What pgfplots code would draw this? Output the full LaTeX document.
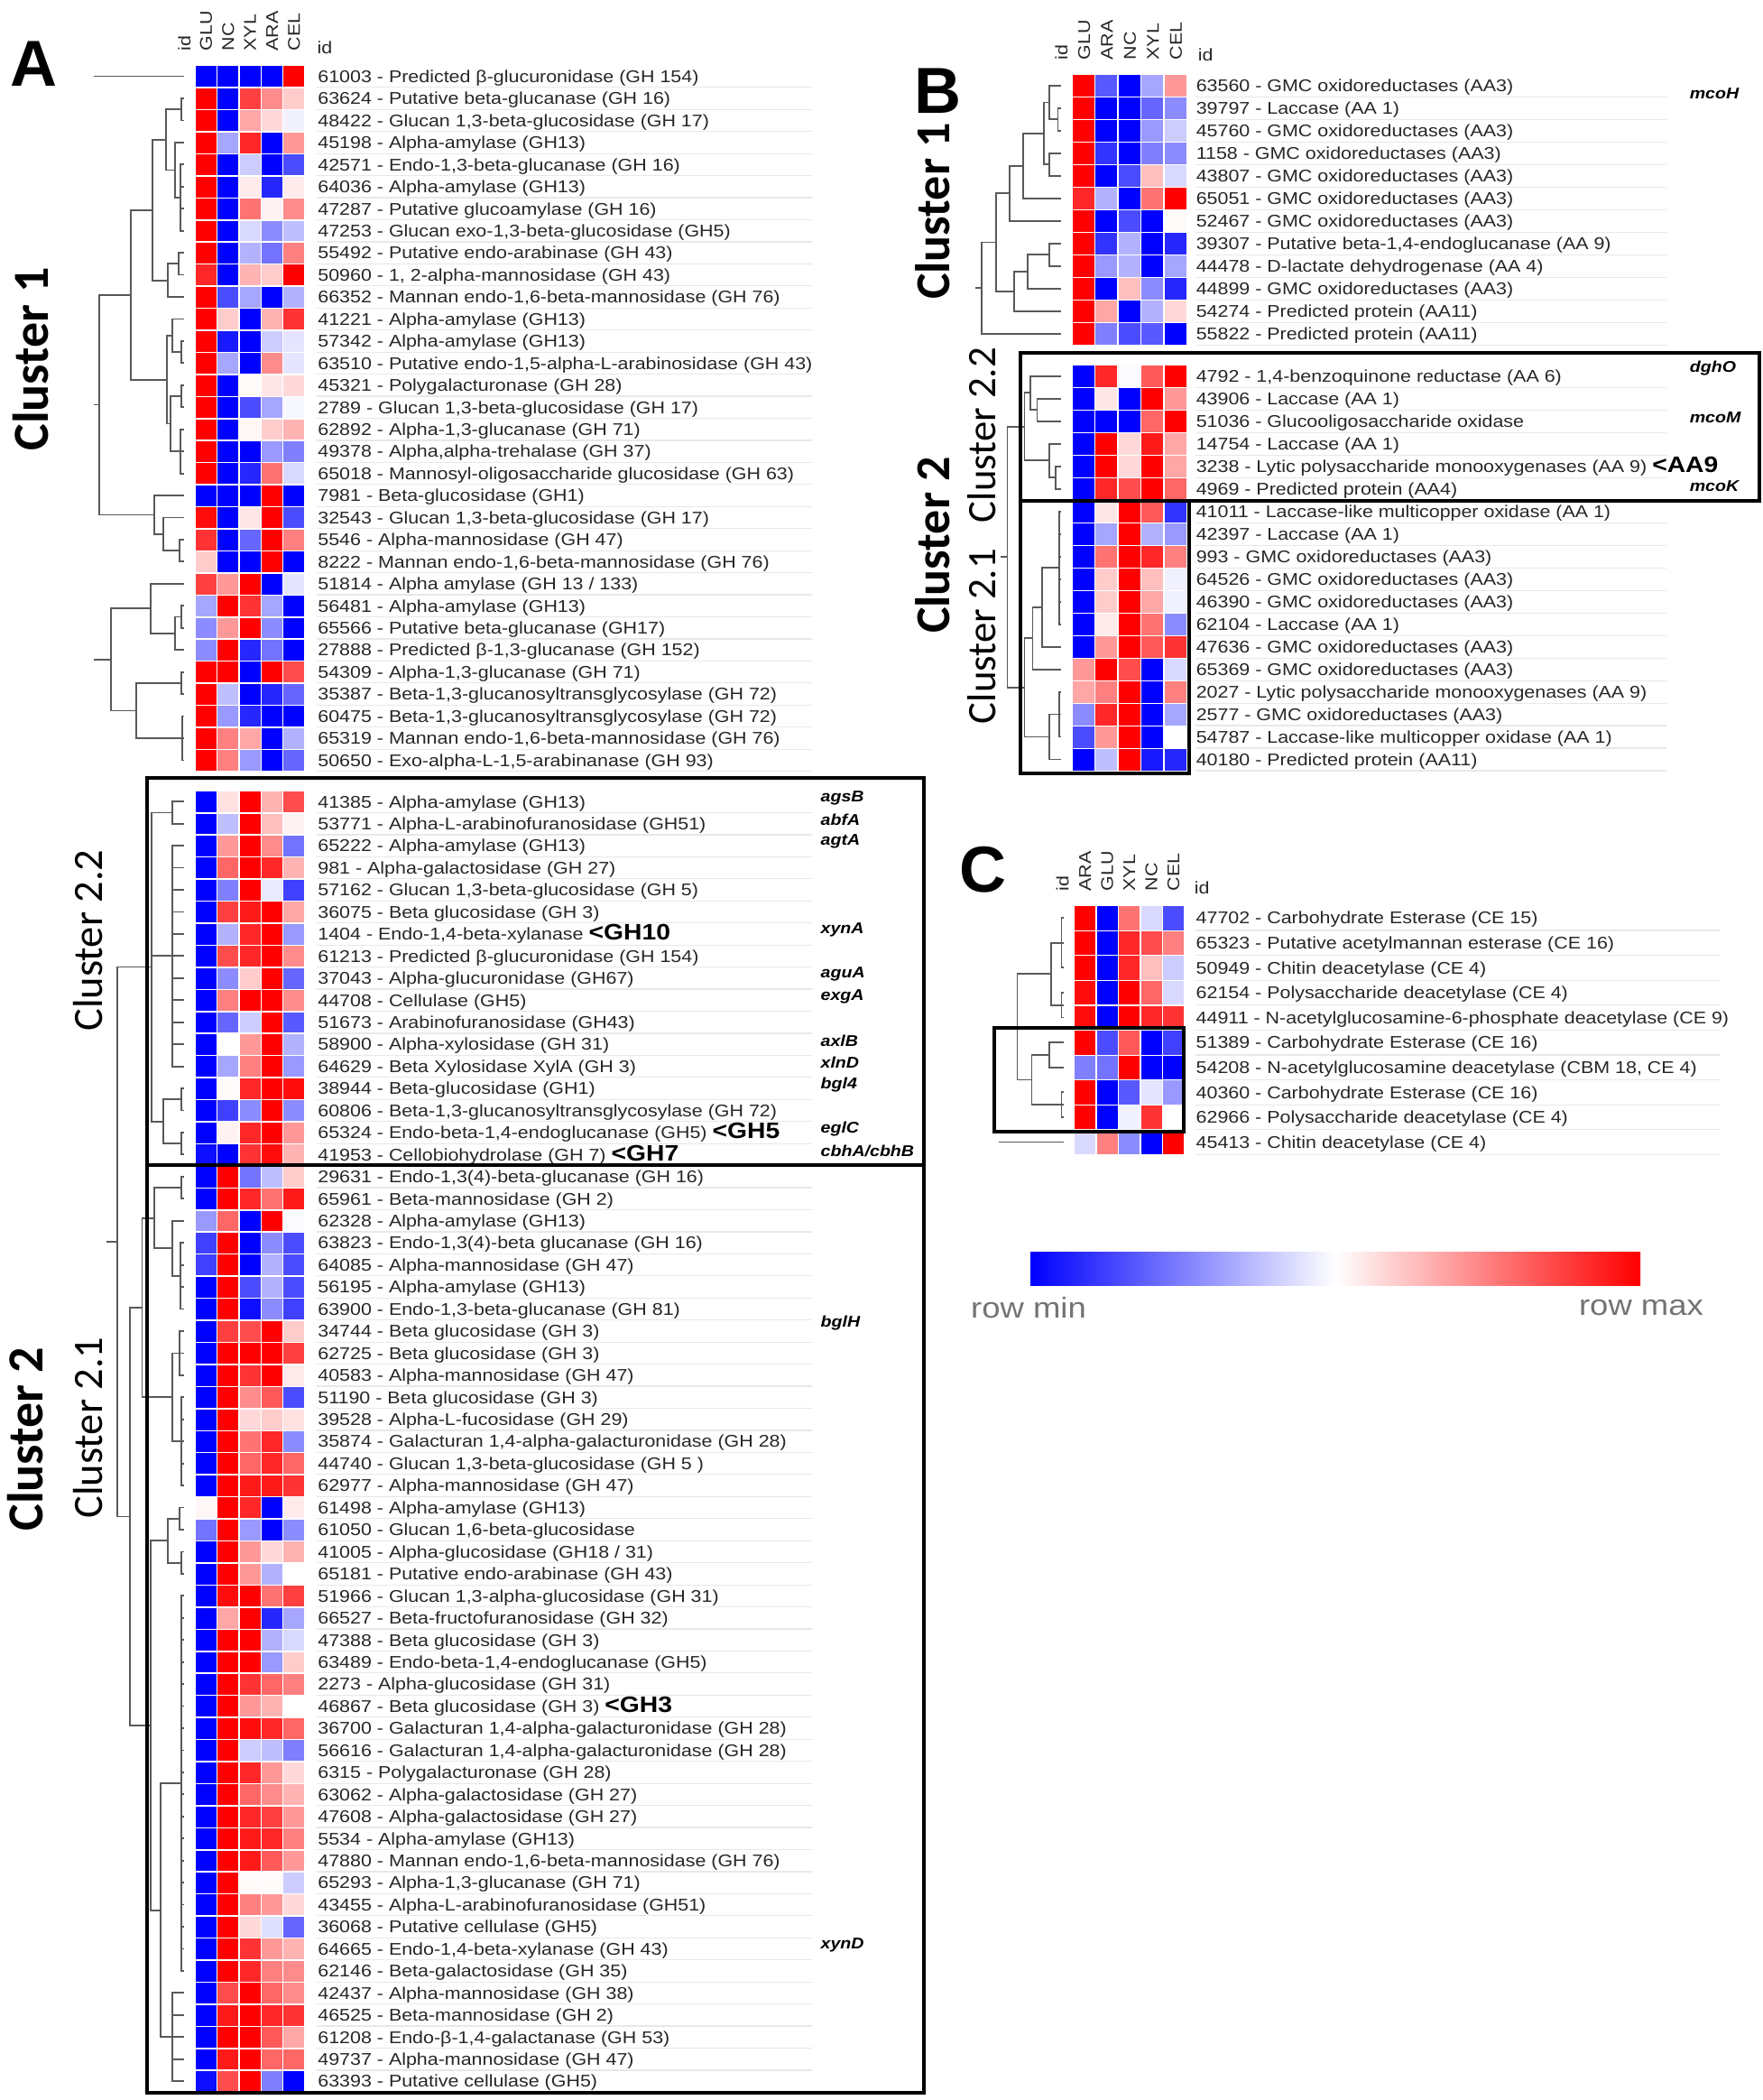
\documentclass[border=0pt]{standalone}
\usepackage{fontspec}
\setmainfont{Liberation Sans}
\usepackage{pgfplots}
\usepackage{pgfplotstable}
\pgfplotsset{compat=1.18}
\newfontfamily\labfam[FakeStretch=1.14]{Liberation Sans}
\newfontfamily\calfam{Carlito}
\newcommand{\labfont}{\labfam\fontsize{4.7}{5.5}\selectfont\color{black!85}}
\newcommand{\gh}[1]{{\bfseries\fontsize{6.2}{6.5}\selectfont\color{black}#1}}
\newcommand{\annfont}{\labfam\bfseries\itshape\fontsize{4.3}{5}\selectfont}
\newcommand{\letfont}{\rmfamily\bfseries\fontsize{18}{19}\selectfont}
\tikzset{dg/.style={draw=black!65, line width=0.45pt},
 sepl/.style={draw=black!9, line width=0.3pt},
 box/.style={draw=black, line width=1.1pt},
 hdr/.style={yshift=3.8pt, rotate=90, anchor=west, font=\labfont, inner sep=0pt, text height=3.4pt, text depth=0pt},
 ann/.style={anchor=west, inner sep=0pt, font=\annfont}}
\pgfplotsset{
 hm/.style={anchor=north west, scale only axis, clip=false,
  axis line style={draw=none}, major tick length=0pt, tick style={draw=none},
  xtick=\empty, y dir=reverse, yticklabel pos=right, xmin=-0.5, xmax=4.5,
  colormap={bwr}{rgb255=(0,0,255) rgb255=(255,255,255) rgb255=(255,0,0)},
  point meta min=-1, point meta max=1,
  yticklabel style={font=\labfont, anchor=west, inner sep=0pt, text height=3.4pt, text depth=0pt}},
 hmp/.style={scatter, only marks, mark=square*, point meta=explicit,
  scatter/use mapped color={draw=mapped color, fill=mapped color}}
}
\newcommand{\flatg}[5]{%
 \draw[dg] (axis cs:#5,#2) -- (axis cs:#1,#2) -- (axis cs:#1,#4) -- (axis cs:#5,#4);
 \pgfplotsinvokeforeach{#2,#3,...,#4}{\draw[dg] (axis cs:#1,##1) -- (axis cs:#5,##1);}%
}
\newcommand{\yA}{\coordindex<32 ? \coordindex+0.5 : \coordindex+1.375}
\newcommand{\yB}{\coordindex<12 ? \coordindex+0.5 : \coordindex+1.375}

\pgfplotstableread{
GLU NC XYL ARA CEL
-1 -1 -1 -1 1
1 -1 0.75 0.45 0.2
1 -1 0.35 0.15 -0.05
1 -0.35 0.85 -1 0.4
1 -1 -0.2 -1 -0.7
1 -1 0.08 -0.85 0.08
1 -1 0.55 0.05 0.45
1 -1 -0.15 -0.45 -0.25
1 -1 -0.3 -0.55 0.5
0.85 -1 0.3 0.2 1
1 -0.7 -0.35 -1 -0.3
1 0.2 -1 0.3 0.8
1 -0.9 -1 -0.2 -0.1
1 -0.35 -1 0.45 -0.1
1 -1 0.02 0.1 0.15
1 -1 -0.7 -0.35 -0.03
1 -1 0.03 0.2 0.3
1 -1 -1 -0.4 -0.5
1 -1 -0.85 0.55 -0.15
-1 -1 -1 1 -1
0.95 -1 0.1 1 -0.7
0.8 -1 -0.6 1 0.5
0.2 -1 -1 1 -1
0.75 0.4 1 -1 -0.1
-0.35 1 0.8 -0.35 -1
-0.45 0.4 1 -0.45 -1
-0.45 1 -0.85 -0.55 -1
1 1 -1 1 0.7
1 -0.25 -1 -0.85 -0.6
1 -0.4 -0.85 -1 -1
1 0.5 0.35 -1 -0.3
1 0.5 -0.4 -1 -0.6
-1 0.12 1 0.3 0.7
-1 -0.25 1 0.25 0.05
-1 0.4 1 0.45 -0.55
-1 0.6 1 0.85 0.3
-1 -0.5 1 -0.08 -0.75
-1 0.75 0.9 1 0.35
-1 -0.3 0.85 1 -0.4
-1 0.7 0.85 1 0.45
-1 -0.45 0.2 1 -0.6
-1 0.5 1 1 0.45
-1 -0.6 -0.2 1 -0.65
-1 0 0.4 1 -0.3
-1 -0.35 0.5 1 -0.4
-1 0.02 0.85 1 0.95
-1 -0.75 -0.45 1 -0.45
-1 0.05 0.85 1 0.4
-0.95 -1 0.8 0.95 0.3
-1 1 -0.55 -0.25 0.2
-1 1 0.85 0.55 0.9
-0.4 0.6 -1 1 -0.02
-0.75 1 -1 -0.45 -0.7
-0.75 1 -1 -0.3 -0.7
-1 1 -0.7 -0.3 -0.7
-1 1 -0.95 -0.45 -0.75
-1 0.75 0.7 1 0.2
-1 1 1 1 0.75
-1 1 0.8 1 0.08
-1 1 0.45 0.65 -0.7
-1 1 0.15 0.2 0.12
-1 1 0.55 0.85 -0.45
-1 1 0.6 0.85 0.6
-1 1 0.9 0.9 0.8
0.03 1 0.85 -1 0.08
-0.55 1 -0.4 -1 -0.45
-1 1 0.4 0.15 0.3
-1 1 0.4 -0.3 0
-1 0.95 1 0.55 0.75
-1 0.35 1 -0.85 -0.35
-1 1 1 -0.3 -0.15
-1 1 1 -0.4 0.2
-1 1 0.8 0.6 0.5
-1 1 0.4 0.3 0
-1 1 0.95 0.85 0.6
-1 1 -0.2 -0.25 -0.5
-1 1 0.85 0.4 0.15
-1 1 0.6 0.45 0.3
-1 1 0.85 0.75 0.4
-1 1 0.9 0.85 0.5
-1 1 0.9 0.65 0.4
-1 1 0.02 0.02 -0.2
-1 1 0.5 0.4 0.15
-1 1 0.15 -0.12 -0.6
-1 1 0.8 0.4 0.3
-1 1 0.85 0.5 0.45
-1 0.7 1 0.6 0.45
-1 0.9 1 0.85 0.8
-1 1 1 0.65 0.35
-1 0.9 1 0.6 0.6
-0.95 0.7 1 -0.5 -1
}\tabA

\pgfplotstableread{
GLU ARA NC XYL CEL
1 -0.65 -1 -0.35 0.4
1 -1 -1 -0.6 -0.45
1 -1 -1 -0.4 -0.2
1 -0.8 -1 -0.5 -0.45
1 -1 -0.7 0.25 -0.15
0.85 -0.3 -1 0.55 1
1 -1 -0.7 -1 0.02
1 -0.8 -0.3 -1 -0.85
1 -0.4 -0.3 -1 -0.35
1 -1 0.25 -0.45 -0.85
1 0.35 -1 -0.3 0.15
1 -0.5 -0.7 -0.65 -1
-1 0.85 -0.02 0.65 1
-1 0.1 -1 1 0.4
-1 -1 -1 0.6 1
-1 1 0.15 0.9 0.35
-1 1 0.15 1 0.35
-1 0.85 0.7 1 0.6
-1 0.1 1 0.65 -0.8
-1 -0.35 1 -0.3 -0.4
-1 0.55 1 0.85 0.5
-1 0.2 1 0.25 -0.06
-1 0.2 1 0.35 -0.06
-1 0.08 1 0.55 -0.45
-1 0.4 1 0.65 0.8
0.4 1 0.7 -1 -0.15
0.35 0.5 1 -1 0.5
-0.45 0.85 1 -1 -0.35
-0.7 0.4 1 -1 0
-1 -0.25 1 -0.9 -0.85
}\tabB

\pgfplotstableread{
ARA GLU XYL NC CEL
1 -1 0.55 -0.15 -0.7
1 -1 0.85 0.7 0.5
1 -1 0.85 0.25 -0.2
0.95 -1 1 0.6 -0.15
0.95 -1 1 0.85 0.8
1 -0.7 0.65 -1 -0.75
-0.5 -0.55 1 -1 -1
1 -1 -0.65 -0.1 -0.4
1 -1 -0.06 0.8 0
-0.15 0.5 -0.45 -1 1
}\tabC

\begin{document}
\begin{tikzpicture}
% ================= PANEL A =================
\begin{axis}[hm, at={(54pt,-18.075pt)}, width=30.4375pt, height=561.5pt,
 ymin=0, ymax=91.875, yticklabel style={xshift=3.46pt},
 every axis plot/.append style={mark size=2.74pt, mark options={line width=0.1pt}},
 ytick={0.5,1.5,...,31.5,33.375,34.375,...,91.5},
 yticklabels={
{61003 - Predicted β-glucuronidase (GH 154)},
{63624 - Putative beta-glucanase (GH 16)},
{48422 - Glucan 1,3-beta-glucosidase (GH 17)},
{45198 - Alpha-amylase (GH13)},
{42571 - Endo-1,3-beta-glucanase (GH 16)},
{64036 - Alpha-amylase (GH13)},
{47287 - Putative glucoamylase (GH 16)},
{47253 - Glucan exo-1,3-beta-glucosidase (GH5)},
{55492 - Putative endo-arabinase (GH 43)},
{50960 - 1, 2-alpha-mannosidase (GH 43)},
{66352 - Mannan endo-1,6-beta-mannosidase (GH 76)},
{41221 - Alpha-amylase (GH13)},
{57342 - Alpha-amylase (GH13)},
{63510 - Putative endo-1,5-alpha-L-arabinosidase (GH 43)},
{45321 - Polygalacturonase (GH 28)},
{2789 - Glucan 1,3-beta-glucosidase (GH 17)},
{62892 - Alpha-1,3-glucanase (GH 71)},
{49378 - Alpha,alpha-trehalase (GH 37)},
{65018 - Mannosyl-oligosaccharide glucosidase (GH 63)},
{7981 - Beta-glucosidase (GH1)},
{32543 - Glucan 1,3-beta-glucosidase (GH 17)},
{5546 - Alpha-mannosidase (GH 47)},
{8222 - Mannan endo-1,6-beta-mannosidase (GH 76)},
{51814 - Alpha amylase (GH 13 / 133)},
{56481 - Alpha-amylase (GH13)},
{65566 - Putative beta-glucanase (GH17)},
{27888 - Predicted β-1,3-glucanase (GH 152)},
{54309 - Alpha-1,3-glucanase (GH 71)},
{35387 - Beta-1,3-glucanosyltransglycosylase (GH 72)},
{60475 - Beta-1,3-glucanosyltransglycosylase (GH 72)},
{65319 - Mannan endo-1,6-beta-mannosidase (GH 76)},
{50650 - Exo-alpha-L-1,5-arabinanase (GH 93)},
{41385 - Alpha-amylase (GH13)},
{53771 - Alpha-L-arabinofuranosidase (GH51)},
{65222 - Alpha-amylase (GH13)},
{981 - Alpha-galactosidase (GH 27)},
{57162 - Glucan 1,3-beta-glucosidase (GH 5)},
{36075 - Beta glucosidase (GH 3)},
{1404 - Endo-1,4-beta-xylanase \gh{<GH10}},
{61213 - Predicted β-glucuronidase (GH 154)},
{37043 - Alpha-glucuronidase (GH67)},
{44708 - Cellulase (GH5)},
{51673 - Arabinofuranosidase (GH43)},
{58900 - Alpha-xylosidase (GH 31)},
{64629 - Beta Xylosidase XylA (GH 3)},
{38944 - Beta-glucosidase (GH1)},
{60806 - Beta-1,3-glucanosyltransglycosylase (GH 72)},
{65324 - Endo-beta-1,4-endoglucanase (GH5) \gh{<GH5}},
{41953 - Cellobiohydrolase (GH 7) \gh{<GH7}},
{29631 - Endo-1,3(4)-beta-glucanase (GH 16)},
{65961 - Beta-mannosidase (GH 2)},
{62328 - Alpha-amylase (GH13)},
{63823 - Endo-1,3(4)-beta glucanase (GH 16)},
{64085 - Alpha-mannosidase (GH 47)},
{56195 - Alpha-amylase (GH13)},
{63900 - Endo-1,3-beta-glucanase (GH 81)},
{34744 - Beta glucosidase (GH 3)},
{62725 - Beta glucosidase (GH 3)},
{40583 - Alpha-mannosidase (GH 47)},
{51190 - Beta glucosidase (GH 3)},
{39528 - Alpha-L-fucosidase (GH 29)},
{35874 - Galacturan 1,4-alpha-galacturonidase (GH 28)},
{44740 - Glucan 1,3-beta-glucosidase (GH 5 )},
{62977 - Alpha-mannosidase (GH 47)},
{61498 - Alpha-amylase (GH13)},
{61050 - Glucan 1,6-beta-glucosidase},
{41005 - Alpha-glucosidase (GH18 / 31)},
{65181 - Putative endo-arabinase (GH 43)},
{51966 - Glucan 1,3-alpha-glucosidase (GH 31)},
{66527 - Beta-fructofuranosidase (GH 32)},
{47388 - Beta glucosidase (GH 3)},
{63489 - Endo-beta-1,4-endoglucanase (GH5)},
{2273 - Alpha-glucosidase (GH 31)},
{46867 - Beta glucosidase (GH 3) \gh{<GH3}},
{36700 - Galacturan 1,4-alpha-galacturonidase (GH 28)},
{56616 - Galacturan 1,4-alpha-galacturonidase (GH 28)},
{6315 - Polygalacturonase (GH 28)},
{63062 - Alpha-galactosidase (GH 27)},
{47608 - Alpha-galactosidase (GH 27)},
{5534 - Alpha-amylase (GH13)},
{47880 - Mannan endo-1,6-beta-mannosidase (GH 76)},
{65293 - Alpha-1,3-glucanase (GH 71)},
{43455 - Alpha-L-arabinofuranosidase (GH51)},
{36068 - Putative cellulase (GH5)},
{64665 - Endo-1,4-beta-xylanase (GH 43)},
{62146 - Beta-galactosidase (GH 35)},
{42437 - Alpha-mannosidase (GH 38)},
{46525 - Beta-mannosidase (GH 2)},
{61208 - Endo-β-1,4-galactanase (GH 53)},
{49737 - Alpha-mannosidase (GH 47)},
{63393 - Putative cellulase (GH5)}}]
\pgfplotsinvokeforeach{1,...,32}{\draw[sepl] (axis cs:5.05,#1) -- (axis cs:27.6,#1);}
\pgfplotsinvokeforeach{33.875,34.875,...,91.875}{\draw[sepl] (axis cs:5.05,#1) -- (axis cs:27.6,#1);}
\addplot[hmp] table[x expr=0, y expr=\yA, meta=GLU]{\tabA};
\addplot[hmp] table[x expr=1, y expr=\yA, meta=NC]{\tabA};
\addplot[hmp] table[x expr=2, y expr=\yA, meta=XYL]{\tabA};
\addplot[hmp] table[x expr=3, y expr=\yA, meta=ARA]{\tabA};
\addplot[hmp] table[x expr=4, y expr=\yA, meta=CEL]{\tabA};
\node[hdr] at (axis cs:0,0) {GLU};
\node[hdr] at (axis cs:1,0) {NC};
\node[hdr] at (axis cs:2,0) {XYL};
\node[hdr] at (axis cs:3,0) {ARA};
\node[hdr] at (axis cs:4,0) {CEL};
\node[hdr] at (axis cs:-0.98,0) {id};
\node[font=\labfont, anchor=base west, inner sep=0pt, yshift=3.3pt] at (axis cs:5.04,0) {id};
% gene annotations
\node[ann] at (axis cs:27.95,33.2) {agsB};
\node[ann] at (axis cs:27.95,34.2) {abfA};
\node[ann] at (axis cs:27.95,35.2) {agtA};
\node[ann] at (axis cs:27.95,39.2) {xynA};
\node[ann] at (axis cs:27.95,41.2) {aguA};
\node[ann] at (axis cs:27.95,42.2) {exgA};
\node[ann] at (axis cs:27.95,44.2) {axlB};
\node[ann] at (axis cs:27.95,45.2) {xlnD};
\node[ann] at (axis cs:27.95,46.2) {bgl4};
\node[ann] at (axis cs:27.95,48.2) {eglC};
\node[ann] at (axis cs:27.95,49.2) {cbhA/cbhB};
\node[ann] at (axis cs:27.95,57.0) {bglH};
\node[ann] at (axis cs:27.95,85.2) {xynD};
% dendrogram cluster 1
\draw[dg] (-5.1,0.5) -- (-1,0.5);
\draw[dg] (-1,1.5) -- (-1.1,1.5) -- (-1.1,2.5) -- (-1,2.5);
\flatg{-1.15}{4.5}{5.5}{7.5}{-1}
\draw[dg] (-1,3.5) -- (-1.41,3.5) -- (-1.41,6.0) -- (-1.15,6.0);
\draw[dg] (-1.1,2.0) -- (-1.82,2.0) -- (-1.82,4.75) -- (-1.41,4.75);
\draw[dg] (-1,8.5) -- (-1.24,8.5) -- (-1.24,9.5) -- (-1,9.5);
\draw[dg] (-1.24,9.0) -- (-1.74,9.0) -- (-1.74,10.5) -- (-1,10.5);
\draw[dg] (-1.82,3.375) -- (-2.44,3.375) -- (-2.44,9.75) -- (-1.74,9.75);
\draw[dg] (-1,12.5) -- (-1.1,12.5) -- (-1.1,13.5) -- (-1,13.5);
\draw[dg] (-1,11.5) -- (-1.53,11.5) -- (-1.53,13.0) -- (-1.1,13.0);
\draw[dg] (-1,14.5) -- (-1.1,14.5) -- (-1.1,15.5) -- (-1,15.5);
\flatg{-1.15}{16.5}{17.5}{18.5}{-1}
\draw[dg] (-1.1,15.0) -- (-1.6,15.0) -- (-1.6,17.5) -- (-1.15,17.5);
\draw[dg] (-1.53,12.25) -- (-1.78,12.25) -- (-1.78,16.25) -- (-1.6,16.25);
\draw[dg] (-2.44,6.5625) -- (-3.42,6.5625) -- (-3.42,14.25) -- (-1.78,14.25);
\draw[dg] (-1,21.5) -- (-1.2,21.5) -- (-1.2,22.5) -- (-1,22.5);
\draw[dg] (-1,20.5) -- (-1.94,20.5) -- (-1.94,22.0) -- (-1.2,22.0);
\draw[dg] (-1,19.5) -- (-2.35,19.5) -- (-2.35,21.25) -- (-1.94,21.25);
\draw[dg] (-3.42,10.406) -- (-4.86,10.406) -- (-4.86,20.375) -- (-2.35,20.375);
\draw[dg] (-4.86,15.39) -- (-5.1,15.39);
\draw[dg] (-1,24.5) -- (-1.12,24.5) -- (-1.12,25.5) -- (-1,25.5);
\draw[dg] (-1.12,25.0) -- (-1.41,25.0) -- (-1.41,26.5) -- (-1,26.5);
\draw[dg] (-1,23.5) -- (-2.52,23.5) -- (-2.52,25.75) -- (-1.41,25.75);
\draw[dg] (-1,27.5) -- (-1.12,27.5) -- (-1.12,28.5) -- (-1,28.5);
\flatg{-1.08}{29.5}{30.5}{31.5}{-1}
\draw[dg] (-1.12,28.0) -- (-3.17,28.0) -- (-3.17,30.5) -- (-1.08,30.5);
\draw[dg] (-2.52,24.625) -- (-4.32,24.625) -- (-4.32,29.25) -- (-3.17,29.25);
\draw[dg] (-4.32,26.94) -- (-5.1,26.94);
% dendrogram cluster 2
\draw[dg] (-1,33.375) -- (-1.53,33.375) -- (-1.53,34.375) -- (-1,34.375);
\flatg{-1.53}{35.375}{36.375}{45.375}{-1}
\draw[dg] (-1,46.375) -- (-1.12,46.375) -- (-1.12,47.375) -- (-1,47.375);
\draw[dg] (-1,48.375) -- (-1.12,48.375) -- (-1.12,49.375) -- (-1,49.375);
\draw[dg] (-1.12,46.875) -- (-1.94,46.875) -- (-1.94,48.875) -- (-1.12,48.875);
\draw[dg] (-1.53,33.875) -- (-2.48,33.875) -- (-2.48,47.875) -- (-1.94,47.875);
\draw[dg] (-2.48,40.375) -- (-1.53,40.375);
\draw[dg] (-1,50.375) -- (-1.12,50.375) -- (-1.12,51.375) -- (-1,51.375);
\flatg{-1.15}{53.375}{54.375}{56.375}{-1}
\draw[dg] (-1,52.375) -- (-1.53,52.375) -- (-1.53,54.875) -- (-1.15,54.875);
\draw[dg] (-1.12,50.875) -- (-2.35,50.875) -- (-2.35,53.625) -- (-1.53,53.625);
\flatg{-1.2}{57.375}{58.375}{59.375}{-1}
\flatg{-1.1}{60.375}{61.375}{64.375}{-1}
\draw[dg] (-1.2,58.375) -- (-1.53,58.375) -- (-1.53,62.375) -- (-1.1,62.375);
\draw[dg] (-2.35,52.25) -- (-2.9,52.25) -- (-2.9,60.375) -- (-1.53,60.375);
\draw[dg] (-1,65.375) -- (-1.2,65.375) -- (-1.2,66.375) -- (-1,66.375);
\draw[dg] (-1,67.375) -- (-1.12,67.375) -- (-1.12,68.375) -- (-1,68.375);
\draw[dg] (-1.2,65.875) -- (-1.74,65.875) -- (-1.74,67.875) -- (-1.12,67.875);
\flatg{-1.1}{69.375}{70.375}{86.375}{-1}
\flatg{-1.53}{87.375}{88.375}{91.375}{-1}
\draw[dg] (-1.1,77.875) -- (-2.06,77.875) -- (-2.06,89.375) -- (-1.53,89.375);
\draw[dg] (-1.74,66.875) -- (-2.52,66.875) -- (-2.52,83.625) -- (-2.06,83.625);
\draw[dg] (-2.9,56.3125) -- (-3.46,56.3125) -- (-3.46,75.25) -- (-2.52,75.25);
\draw[dg] (-2.48,40.875) -- (-4.04,40.875) -- (-4.04,65.78) -- (-3.46,65.78);
\draw[dg] (-4.04,53.33) -- (-4.53,53.33);
\end{axis}

% ================= PANEL B =================
\begin{axis}[hm, at={(296.925pt,-20.575pt)}, width=31.825pt, height=192.94pt,
 ymin=0, ymax=30.875, yticklabel style={xshift=2.5pt},
 every axis plot/.append style={mark size=2.86pt, mark options={line width=0.1pt}},
 ytick={0.5,1.5,...,11.5,13.375,14.375,...,30.5},
 yticklabels={
{63560 - GMC oxidoreductases (AA3)},
{39797 - Laccase (AA 1)},
{45760 - GMC oxidoreductases (AA3)},
{1158 - GMC oxidoreductases (AA3)},
{43807 - GMC oxidoreductases (AA3)},
{65051 - GMC oxidoreductases (AA3)},
{52467 - GMC oxidoreductases (AA3)},
{39307 - Putative beta-1,4-endoglucanase (AA 9)},
{44478 - D-lactate dehydrogenase (AA 4)},
{44899 - GMC oxidoreductases (AA3)},
{54274 - Predicted protein (AA11)},
{55822 - Predicted protein (AA11)},
{4792 - 1,4-benzoquinone reductase (AA 6)},
{43906 - Laccase (AA 1)},
{51036 - Glucooligosaccharide oxidase},
{14754 - Laccase (AA 1)},
{3238 - Lytic polysaccharide monooxygenases (AA 9) \gh{<AA9}},
{4969 - Predicted protein (AA4)},
{41011 - Laccase-like multicopper oxidase (AA 1)},
{42397 - Laccase (AA 1)},
{993 - GMC oxidoreductases (AA3)},
{64526 - GMC oxidoreductases (AA3)},
{46390 - GMC oxidoreductases (AA3)},
{62104 - Laccase (AA 1)},
{47636 - GMC oxidoreductases (AA3)},
{65369 - GMC oxidoreductases (AA3)},
{2027 - Lytic polysaccharide monooxygenases (AA 9)},
{2577 - GMC oxidoreductases (AA3)},
{54787 - Laccase-like multicopper oxidase (AA 1)},
{40180 - Predicted protein (AA11)}}]
\pgfplotsinvokeforeach{1,...,12}{\draw[sepl] (axis cs:4.9,#1) -- (axis cs:25.4,#1);}
\pgfplotsinvokeforeach{13.875,14.875,...,30.875}{\draw[sepl] (axis cs:4.9,#1) -- (axis cs:25.4,#1);}
\addplot[hmp] table[x expr=0, y expr=\yB, meta=GLU]{\tabB};
\addplot[hmp] table[x expr=1, y expr=\yB, meta=ARA]{\tabB};
\addplot[hmp] table[x expr=2, y expr=\yB, meta=NC]{\tabB};
\addplot[hmp] table[x expr=3, y expr=\yB, meta=XYL]{\tabB};
\addplot[hmp] table[x expr=4, y expr=\yB, meta=CEL]{\tabB};
\node[hdr, yshift=-0.2pt] at (axis cs:0,0) {GLU};
\node[hdr, yshift=-0.2pt] at (axis cs:1,0) {ARA};
\node[hdr, yshift=-0.2pt] at (axis cs:2,0) {NC};
\node[hdr, yshift=-0.2pt] at (axis cs:3,0) {XYL};
\node[hdr, yshift=-0.2pt] at (axis cs:4,0) {CEL};
\node[hdr, yshift=-0.2pt] at (axis cs:-0.98,0) {id};
\node[font=\labfont, anchor=base west, inner sep=0pt, yshift=3.6pt] at (axis cs:4.97,0) {id};
\node[ann] at (axis cs:26.38,0.87) {mcoH};
\node[ann] at (axis cs:26.38,13.03) {dghO};
\node[ann] at (axis cs:26.38,15.23) {mcoM};
\node[ann] at (axis cs:26.38,18.25) {mcoK};
% dendrogram cluster 1
\draw[dg] (-0.97,1.5) -- (-1.1,1.5) -- (-1.1,2.5) -- (-0.97,2.5);
\draw[dg] (-0.97,0.5) -- (-1.46,0.5) -- (-1.46,2.0) -- (-1.1,2.0);
\draw[dg] (-0.97,3.5) -- (-1.46,3.5) -- (-1.46,4.5) -- (-0.97,4.5);
\draw[dg] (-1.46,1.25) -- (-1.72,1.25) -- (-1.72,4.0) -- (-1.46,4.0);
\draw[dg] (-1.72,2.625) -- (-2.6,2.625) -- (-2.6,5.5) -- (-0.97,5.5);
\draw[dg] (-2.6,4.0625) -- (-3.2,4.0625) -- (-3.2,6.5) -- (-0.97,6.5);
\draw[dg] (-0.97,7.5) -- (-1.46,7.5) -- (-1.46,8.5) -- (-0.97,8.5);
\draw[dg] (-1.46,8.0) -- (-2.4,8.0) -- (-2.4,9.5) -- (-0.97,9.5);
\draw[dg] (-2.4,8.75) -- (-3.0,8.75) -- (-3.0,10.5) -- (-0.97,10.5);
\draw[dg] (-3.2,5.28) -- (-3.8,5.28) -- (-3.8,9.625) -- (-3.0,9.625);
\draw[dg] (-3.8,7.45) -- (-4.43,7.45) -- (-4.43,11.5) -- (-0.97,11.5);
\draw[dg] (-4.43,9.48) -- (-4.7,9.48);
% dendrogram cluster 2
\draw[dg] (-0.97,17.375) -- (-1.2,17.375) -- (-1.2,18.375) -- (-0.97,18.375);
\draw[dg] (-0.97,16.375) -- (-1.46,16.375) -- (-1.46,17.875) -- (-1.2,17.875);
\draw[dg] (-0.97,14.375) -- (-2.0,14.375) -- (-2.0,15.375) -- (-0.97,15.375);
\draw[dg] (-0.97,13.375) -- (-2.3,13.375) -- (-2.3,14.875) -- (-2.0,14.875);
\draw[dg] (-2.3,14.125) -- (-2.55,14.125) -- (-2.55,17.125) -- (-1.46,17.125);
\flatg{-1.05}{19.375}{20.375}{24.375}{-0.97}
\flatg{-1.05}{27.375}{28.375}{29.375}{-0.97}
\draw[dg] (-1.05,28.375) -- (-1.46,28.375) -- (-1.46,30.375) -- (-0.97,30.375);
\draw[dg] (-1.05,21.875) -- (-1.8,21.875) -- (-1.8,25.375) -- (-0.97,25.375);
\draw[dg] (-1.8,23.625) -- (-2.2,23.625) -- (-2.2,26.375) -- (-0.97,26.375);
\draw[dg] (-2.2,25.0) -- (-2.55,25.0) -- (-2.55,29.375) -- (-1.46,29.375);
\draw[dg] (-2.55,15.625) -- (-3.3,15.625) -- (-3.3,27.1875) -- (-2.55,27.1875);
\draw[dg] (-3.3,21.406) -- (-3.6,21.406);
\end{axis}

% ================= PANEL C =================
\begin{axis}[hm, at={(297.5pt,-250.825pt)}, width=30.625pt, height=69pt,
 ymin=0, ymax=10, yticklabel style={xshift=3.1pt},
 every axis plot/.append style={mark size=2.76pt, mark options={line width=0.1pt, yscale=1.15}},
 ytick={0.5,1.5,...,9.5},
 yticklabels={
{47702 - Carbohydrate Esterase (CE 15)},
{65323 - Putative acetylmannan esterase (CE 16)},
{50949 - Chitin deacetylase (CE 4)},
{62154 - Polysaccharide deacetylase (CE 4)},
{44911 - N-acetylglucosamine-6-phosphate deacetylase (CE 9)},
{51389 - Carbohydrate Esterase (CE 16)},
{54208 - N-acetylglucosamine deacetylase (CBM 18, CE 4)},
{40360 - Carbohydrate Esterase (CE 16)},
{62966 - Polysaccharide deacetylase (CE 4)},
{45413 - Chitin deacetylase (CE 4)}}]
\pgfplotsinvokeforeach{1,...,10}{\draw[sepl] (axis cs:5.0,#1) -- (axis cs:28.75,#1);}
\addplot[hmp] table[x expr=0, y expr=\coordindex+0.5, meta=ARA]{\tabC};
\addplot[hmp] table[x expr=1, y expr=\coordindex+0.5, meta=GLU]{\tabC};
\addplot[hmp] table[x expr=2, y expr=\coordindex+0.5, meta=XYL]{\tabC};
\addplot[hmp] table[x expr=3, y expr=\coordindex+0.5, meta=NC]{\tabC};
\addplot[hmp] table[x expr=4, y expr=\coordindex+0.5, meta=CEL]{\tabC};
\node[hdr] at (axis cs:0,0) {ARA};
\node[hdr] at (axis cs:1,0) {GLU};
\node[hdr] at (axis cs:2,0) {XYL};
\node[hdr] at (axis cs:3,0) {NC};
\node[hdr] at (axis cs:4,0) {CEL};
\node[hdr] at (axis cs:-1.01,0) {id};
\node[font=\labfont, anchor=base west, inner sep=0pt, yshift=3.3pt] at (axis cs:4.93,0) {id};
\flatg{-1.05}{0.5}{1.5}{2.5}{-0.95}
\flatg{-1.05}{3.5}{4.0}{4.5}{-0.95}
\draw[dg] (-1.05,1.5) -- (-1.52,1.5) -- (-1.52,4.0) -- (-1.05,4.0);
\draw[dg] (-0.95,5.5) -- (-1.59,5.5) -- (-1.59,6.5) -- (-0.95,6.5);
\flatg{-1.05}{7.5}{8.0}{8.5}{-0.95}
\draw[dg] (-1.59,6.0) -- (-2.4,6.0) -- (-2.4,8.0) -- (-1.05,8.0);
\draw[dg] (-1.52,2.75) -- (-3.05,2.75) -- (-3.05,7.0) -- (-2.4,7.0);
\draw[dg] (-3.05,4.875) -- (-3.9,4.875);
\draw[dg] (-3.9,9.5) -- (-0.95,9.5);
\end{axis}

% ================= decorations in reference pixels =================
\begin{scope}[x=0.25pt, y=-0.25pt]
\node[font=\letfont] at (37,71) {A};
\node[font=\letfont] at (1039,101) {B};
\node[font=\letfont] at (1089,964) {C};
% boxes
\draw[box] (163,862) rectangle (1024,1291);
\draw[box] (163,1291) rectangle (1024,2319);
\draw[box] (1131,391) rectangle (1950,555);
\draw[box] (1131,555) rectangle (1318,857);
\draw[box] (1102,1139) rectangle (1312,1254);
% cluster labels
\node[rotate=90, font=\calfam\bfseries\fontsize{14}{14}\selectfont] at (34,398) {Cluster 1};
\node[rotate=90, font=\calfam\bfseries\fontsize{14}{14}\selectfont] at (28,1595) {Cluster 2};
\node[rotate=90, font=\calfam\fontsize{11.6}{12}\selectfont] at (98,1042) {Cluster 2.2};
\node[rotate=90, font=\calfam\fontsize{11.6}{12}\selectfont] at (98,1582) {Cluster 2.1};
\node[rotate=90, font=\calfam\bfseries\fontsize{13.5}{14}\selectfont] at (1034,234) {Cluster 1};
\node[rotate=90, font=\calfam\bfseries\fontsize{13.5}{14}\selectfont] at (1034,604) {Cluster 2};
\node[rotate=90, font=\calfam\fontsize{11.2}{12}\selectfont] at (1088,482) {Cluster 2.2};
\node[rotate=90, font=\calfam\fontsize{11.2}{12}\selectfont] at (1088,705) {Cluster 2.1};
% colour scale
\shade[left color=blue, right color=red, middle color=white] (1142,1387) rectangle (1818,1424);
\node[font=\labfam\fontsize{8}{9}\selectfont, text=black!55] at (1140,1449) {row min};
\node[font=\labfam\fontsize{8}{9}\selectfont, text=black!55] at (1819,1449) {row max};
\end{scope}
\pgfresetboundingbox
\path[use as bounding box] (0,0) rectangle (488.5pt,-581.75pt);
\end{tikzpicture}
\end{document}
